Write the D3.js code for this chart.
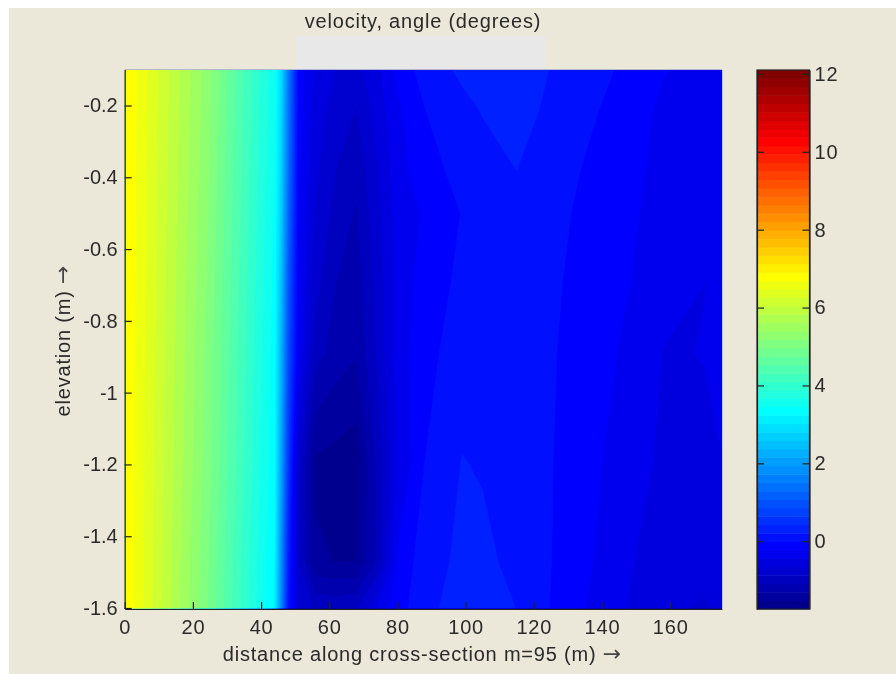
<!DOCTYPE html>
<html>
<head>
<meta charset="utf-8">
<script src="https://cdn.jsdelivr.net/npm/d3@7"></script>
<style>
html,body{margin:0;padding:0;background:#fff;overflow:hidden}
svg{display:block}
text{font-family:"Liberation Sans",Arial,sans-serif;fill:#2a2a2a;letter-spacing:0.8px;filter:blur(0.35px)}
tspan.arrow{font-family:"DejaVu Sans",sans-serif;letter-spacing:0;fill:#444}
</style>
</head>
<body>
<svg id="c" width="896" height="674"></svg>
<script>
const titleText = "velocity, angle (degrees)";
const xLabelText = "distance along cross-section m=95 (m) ";
const yLabelText = "elevation (m) ";
const arrowText = "\u2192";
const xTicks = [0,20,40,60,80,100,120,140,160];
const yTicks = [-0.2,-0.4,-0.6,-0.8,-1,-1.2,-1.4,-1.6];
const yTickLabels = ["-0.2","-0.4","-0.6","-0.8","-1","-1.2","-1.4","-1.6"];
const cTicks = [0,2,4,6,8,10,12];
const colorMin = -1.74, colorMax = 12.1, colorLevels = 64;

const distance = [0,4,24,44,46,48,51,56,62,68,74,80,88,99,105,115,125,135,147,158,170,175];
const elevation = [-0.1,-0.21,-0.39,-0.5,-0.7,-0.89,-1.19,-1.47,-1.6];
const row1 = [6.90,6.66,5.30,3.50,2.80,1.50,-0.10,-0.50,-0.66,-0.72,-0.50,-0.17,0.09,0.25,0.30,0.32,0.20,0.09,-0.05,-0.21,-0.33,-0.38];
const row2 = [6.90,6.66,5.28,3.48,2.75,1.45,-0.12,-0.55,-0.75,-0.88,-0.58,-0.27,-0.012,0.15,0.22,0.26,0.18,0.04,-0.10,-0.27,-0.38,-0.40];
const row3 = [6.90,6.65,5.25,3.45,2.65,1.35,-0.15,-0.62,-0.88,-1.03,-0.68,-0.33,-0.09,0.05,0.12,0.204,0.10,-0.03,-0.15,-0.30,-0.41,-0.40];
const row4 = [6.90,6.65,5.22,3.42,2.60,1.25,-0.20,-0.70,-0.95,-1.12,-0.72,-0.36,-0.20,0.00,0.05,0.09,0.05,-0.05,-0.17,-0.32,-0.42,-0.40];
const row5 = [6.89,6.64,5.18,3.38,2.40,1.05,-0.25,-0.80,-1.10,-1.20,-0.80,-0.37,-0.12,0.04,0.05,0.07,0.02,-0.07,-0.21,-0.34,-0.444,-0.42];
const row6 = [6.89,6.63,5.14,3.34,2.20,0.90,-0.30,-1.00,-1.20,-1.29,-0.85,-0.36,-0.06,0.07,0.08,0.08,0.01,-0.10,-0.26,-0.45,-0.44,-0.43];
const row7 = [6.88,6.62,5.10,3.30,2.00,0.60,-0.80,-1.55,-1.60,-1.65,-1.05,-0.45,-0.01,0.215,0.18,0.10,0.00,-0.14,-0.34,-0.48,-0.46,-0.444];
const row8 = [6.87,6.60,5.02,3.22,1.70,0.25,-0.85,-1.50,-1.53,-1.53,-1.05,-0.20,0.12,0.25,0.27,0.13,-0.005,-0.18,-0.41,-0.56,-0.52,-0.46];
const row9 = [6.87,6.60,5.00,3.20,1.60,0.10,-0.70,-0.90,-0.95,-0.90,-0.45,-0.10,0.13,0.33,0.28,0.204,-0.02,-0.22,-0.44,-0.58,-0.70,-0.62];
const angle = [row1,row2,row3,row4,row5,row6,row7,row8,row9];

const W = 896, H = 674;
const pL = 124.7, pR = 722, pT = 70, pB = 609;
const barL = 757, barR = 809.5;
const FS = 20;

const svg = d3.select("#c");
svg.append("rect").attr("x",9).attr("y",8).attr("width",W-9).attr("height",H-8).attr("fill","#ebe8d9");
svg.append("rect").attr("x",296).attr("y",36).attr("width",250).attr("height",33).attr("fill","#e8e8e8");

const x = d3.scaleLinear().domain([0,175.2]).range([pL,pR]);
const y = d3.scaleLinear().domain([-0.1,-1.6]).range([69.6,608]);
const cScale = d3.scaleLinear().domain([colorMin,colorMax]).range([pB,pT]);

function jet(k){
  const i = k+1;
  const c = v => Math.round(255*Math.max(0,Math.min(1,v)));
  return d3.rgb(c(Math.min((i-24)/16,(72-i)/16)), c(Math.min((i-8)/16,(56-i)/16)), c(Math.min((i+8)/16,(40-i)/16))).formatHex();
}
const step = (colorMax-colorMin)/colorLevels;
const levels = d3.range(colorLevels).map(k => colorMin + k*step);

const defs = svg.append("defs");
defs.append("clipPath").attr("id","plot").append("rect")
  .attr("x",pL).attr("y",pT).attr("width",pR-pL).attr("height",pB-pT);

const nCol = distance.length, nRow = elevation.length;
const flat = angle.flat();
const contours = d3.contours().size([nCol,nRow]).thresholds(levels).smooth(true)(flat);
const colIdx = d3.scaleLinear().domain(d3.range(nCol)).range(distance).clamp(true);
const rowIdx = d3.scaleLinear().domain(d3.range(nRow)).range(elevation).clamp(true);
const path = d3.geoPath(d3.geoTransform({
  point(a,b){ this.stream.point(x(colIdx(a-0.5)), y(rowIdx(b-0.5))); }
}));

const g = svg.append("g").attr("clip-path","url(#plot)");
g.append("rect").attr("x",pL).attr("y",pT).attr("width",pR-pL).attr("height",pB-pT).attr("fill",jet(0));
g.selectAll("path").data(contours).join("path")
  .attr("d",path)
  .attr("fill",(d,i)=>jet(i))
  .attr("stroke",(d,i)=>jet(i)).attr("stroke-width",0.3);

// faint top and right edges of the plot box
svg.append("line").attr("x1",pL).attr("x2",pR).attr("y1",pT-0.5).attr("y2",pT-0.5).attr("stroke","#b4b8d0");
svg.append("line").attr("x1",pR+0.5).attr("x2",pR+0.5).attr("y1",pT).attr("y2",pB).attr("stroke","#c4c4cc");

// axes
const axisB = svg.append("g").attr("transform",`translate(0,${pB})`)
  .call(d3.axisBottom(x).tickValues(xTicks).tickSizeInner(-7).tickSizeOuter(0).tickFormat(d3.format("d")));
axisB.selectAll("text").attr("y",11).attr("dy","0.71em");
const axisL = svg.append("g").attr("transform",`translate(${pL},0)`)
  .call(d3.axisLeft(y).tickValues(yTicks).tickSizeInner(-7).tickSizeOuter(0).tickFormat((d,i)=>yTickLabels[i]));
axisL.selectAll("text").attr("x",-7).style("letter-spacing","0");
[axisB,axisL].forEach(a=>{
  a.attr("font-size",null).attr("font-family",null);
  a.selectAll("text").style("font-size",FS+"px").attr("fill","#2a2a2a");
  a.selectAll("path,line").attr("stroke","#222").attr("stroke-width",1.2);
});

// colour bar
const bar = svg.append("g");
bar.selectAll("rect").data(levels).join("rect")
  .attr("x",barL).attr("width",barR-barL)
  .attr("y",d=>cScale(d+step)).attr("height",d=>cScale(d)-cScale(d+step)+0.5)
  .attr("fill",(d,i)=>jet(i));
const axisR = svg.append("g").attr("transform",`translate(${barR},0)`)
  .call(d3.axisRight(cScale).tickValues(cTicks).tickSizeInner(-7).tickSizeOuter(0).tickFormat(d3.format("d")));
axisR.selectAll("text").attr("x",5);
axisR.attr("font-size",null).attr("font-family",null);
axisR.selectAll("text").style("font-size",FS+"px").attr("fill","#2a2a2a");
axisR.selectAll("path,line").attr("stroke","#222").attr("stroke-width",1.2);
const axisRL = svg.append("g").attr("transform",`translate(${barL},0)`)
  .call(d3.axisLeft(cScale).tickValues(cTicks).tickSizeInner(-7).tickSizeOuter(0).tickFormat(""));
axisRL.selectAll("path,line").attr("stroke","#222").attr("stroke-width",1.2);
svg.append("rect").attr("x",barL).attr("y",pT).attr("width",barR-barL).attr("height",pB-pT)
  .attr("fill","none").attr("stroke","#222").attr("stroke-width",1.2);

// labels
svg.append("text").attr("x",423).attr("y",28).attr("text-anchor","middle").style("font-size",FS+"px").text(titleText);
const xl = svg.append("text").attr("x",422).attr("y",661).attr("text-anchor","middle").style("font-size",FS+"px");
xl.append("tspan").text(xLabelText);
xl.append("tspan").attr("class","arrow").style("font-size","22px").text(arrowText);
const yl = svg.append("text").attr("transform","translate(70,341) rotate(-90)").attr("text-anchor","middle").style("font-size",FS+"px");
yl.append("tspan").text(yLabelText);
yl.append("tspan").attr("class","arrow").style("font-size","22px").text(arrowText);
</script>
</body>
</html>
